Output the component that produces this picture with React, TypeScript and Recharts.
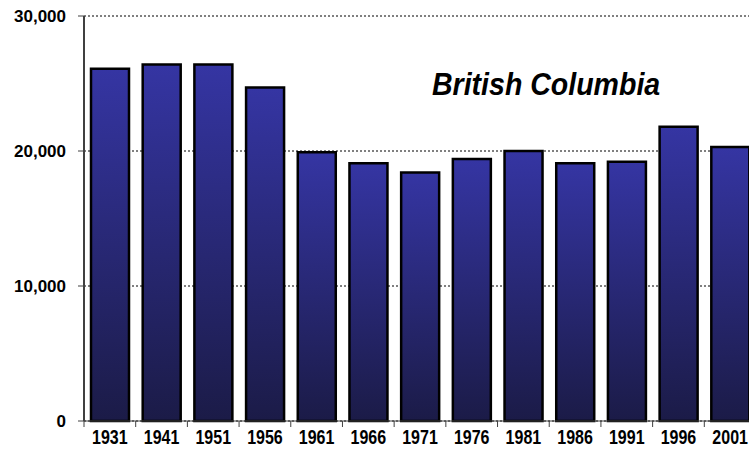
import React from 'react';
import { BarChart, Bar, XAxis, YAxis, CartesianGrid } from 'recharts';

const years = ['1931', '1941', '1951', '1956', '1961', '1966', '1971', '1976', '1981', '1986', '1991', '1996', '2001'];
const population = [26100, 26400, 26400, 24700, 19900, 19100, 18400, 19400, 20000, 19100, 19200, 21800, 20300];
const yTicks = [0, 10000, 20000, 30000];

const CHART_W = 760;
const CHART_H = 449;
const AXIS_W = 84;
const RIGHT = 4;
const X_AXIS_H = 28;
const AXIS_Y = CHART_H - X_AXIS_H;
const BAND = (CHART_W - AXIS_W - RIGHT) / years.length;

const chartData = years.map((year, i) => ({ year, value: population[i] }));

const fontFamily = 'Arial, "Liberation Sans", sans-serif';

// label plus a tick mark on the left edge of each category
const YearTick = (props: any) => {
  const { x, payload } = props;
  const left = x - BAND / 2;
  return (
    <g>
      <line x1={left} y1={AXIS_Y} x2={left} y2={AXIS_Y + 6} stroke="#404040" strokeWidth={1} />
      <text
        transform={`translate(${x},${AXIS_Y + 23}) scale(0.8,1)`}
        textAnchor="middle"
        fill="#000"
        fontSize={20}
        fontWeight="bold"
        fontFamily={fontFamily}
      >
        {payload.value}
      </text>
    </g>
  );
};

export default function App() {
  return (
    <div style={{ position: 'absolute', left: 0, top: 0, width: 749, height: 449, overflow: 'hidden', background: '#fff' }}>
      <BarChart
        width={CHART_W}
        height={CHART_H}
        data={chartData}
        margin={{ top: 16, right: RIGHT, left: 0, bottom: 0 }}
        barCategoryGap={7}
      >
        <defs>
          <linearGradient id="barFill" x1="0" y1="0" x2="0" y2="1">
            <stop offset="0%" stopColor="#3535a3" />
            <stop offset="100%" stopColor="#1b1b47" />
          </linearGradient>
        </defs>
        <CartesianGrid vertical={false} stroke="#000" strokeDasharray="2 2" strokeWidth={1} />
        <XAxis
          dataKey="year"
          height={X_AXIS_H}
          axisLine={{ stroke: '#404040', strokeWidth: 1 }}
          tickLine={false}
          tick={<YearTick />}
          interval={0}
        />
        <YAxis
          width={AXIS_W}
          domain={[0, 30000]}
          ticks={yTicks}
          tickFormatter={(v: number) => v.toLocaleString('en-US')}
          axisLine={{ stroke: '#404040', strokeWidth: 2 }}
          tickLine={{ stroke: '#404040' }}
          tickSize={6}
          tickMargin={12}
          tick={{ fill: '#000', fontSize: 17, fontWeight: 'bold', fontFamily }}
        />
        <Bar dataKey="value" fill="url(#barFill)" stroke="#000" strokeWidth={2.5} isAnimationActive={false} />
      </BarChart>
      <div
        style={{
          position: 'absolute',
          left: 432,
          top: 67,
          fontFamily,
          fontSize: 31,
          fontWeight: 'bold',
          fontStyle: 'italic',
          color: '#000',
          whiteSpace: 'nowrap',
          transform: 'scaleX(0.92)',
          transformOrigin: 'left top',
        }}
      >
        British Columbia
      </div>
    </div>
  );
}
